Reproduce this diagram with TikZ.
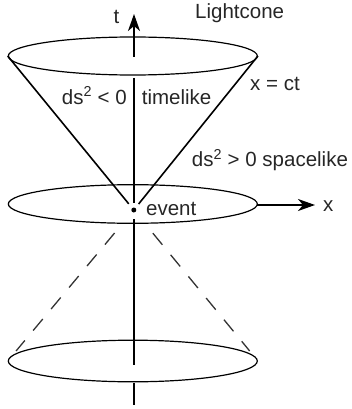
\documentclass[tikz,border=0pt]{standalone}
\usepackage{fontspec}
\setmainfont{Liberation Sans}
\usetikzlibrary{arrows.meta,shapes.geometric}
\begin{document}
\begin{tikzpicture}[x=1pt,y=-1pt,
  rim/.style={ellipse,draw=black,line width=1.2pt,inner sep=0pt,minimum width=249pt},
  cone/.style={draw=black,line width=1.6pt},
  past/.style={draw=black!80,line width=1.3pt,dash pattern=on 15pt off 13pt},
  axis/.style={draw=black,line width=1.7pt},
  arr/.style={-{Stealth[length=17pt,width=12pt,inset=5pt]}},
  lbl/.style={anchor=base west,inner sep=0pt,text=black!85,font=\fontsize{20.5}{24}\selectfont}]
\useasboundingbox (0,0) rectangle (351,409);
% ellipses
\node[rim,minimum height=38pt] (top) at (132.8,56) {};
\node[rim,minimum height=38.6pt] (mid) at (132.8,204) {};
\node[rim,minimum height=41.6pt] (bot) at (132.8,361) {};
% event
\node[circle,fill=black,inner sep=0pt,minimum size=5pt] (ev) at (133.8,210) {};
% axis coordinates
\coordinate (t0) at (134,57);
\coordinate (t1) at (134,14);
\coordinate (a1) at (134,78);
\coordinate (a2) at (134,203);
\coordinate (a3) at (134,219);
\coordinate (a4) at (134,365);
\coordinate (a5) at (134,383);
\coordinate (a6) at (134,405);
\coordinate (x1) at (315,205);
\coordinate (x0) at (257.3,205);
% axes
\draw[axis,arr] (t0) -- (t1);
\draw[axis] (a1) -- (a2);
\draw[axis] (a3) -- (a4);
\draw[axis] (a5) -- (a6);
\draw[axis,arr] (x0) -- (x1);
% future cone
\draw[cone,shorten >=8pt] (top.west) -- (ev.center);
\draw[cone,shorten >=7.7pt] (top.east) -- (ev.center);
% past cone
\draw[past,shorten <=30pt,shorten >=13pt] (ev.center) -- (bot.west);
\draw[past,shorten <=30pt,shorten >=13pt] (ev.center) -- (bot.east);
% labels
\node[lbl] (lc) at (195,19) {Lightcone};
\node[lbl] (tl) at (113.3,23.3) {t};
\node[lbl] (xl) at (323,211.7) {x};
\node[lbl] (xct) at (250,90.7) {x = ct};
\node[lbl] (neg) at (61.7,104.3) {ds\textsuperscript{2} < 0};
\node[lbl] (tlk) at (141.7,104.3) {timelike};
\node[lbl] (spc) at (191.7,166.7) {ds\textsuperscript{2} > 0 spacelike};
\node[lbl] (evl) at (146,215) {event};
\end{tikzpicture}
\end{document}
